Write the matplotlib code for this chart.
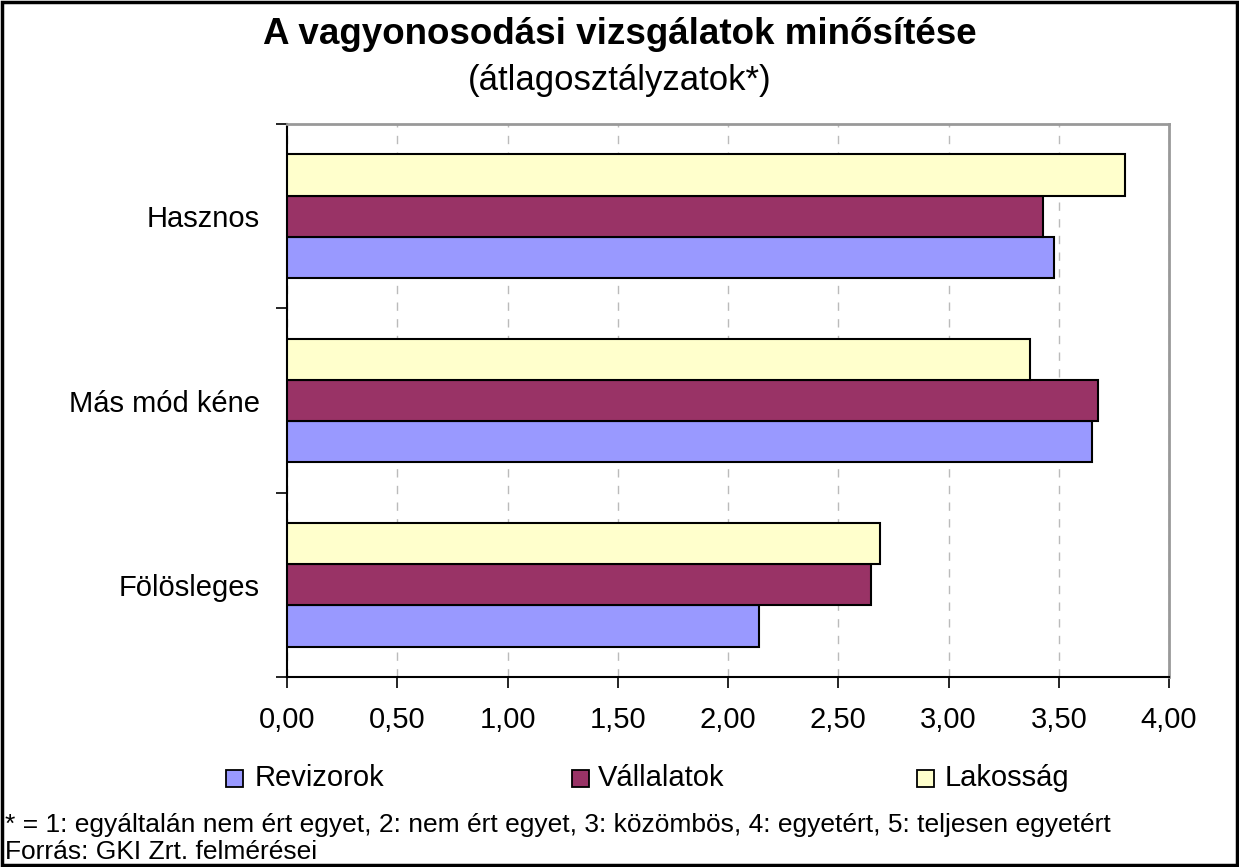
import matplotlib
matplotlib.use("Agg")
import matplotlib.pyplot as plt
import numpy as np
from matplotlib.patches import Rectangle

categories = ["Fölösleges", "Más mód kéne", "Hasznos"]
series_names = ["Revizorok", "Vállalatok", "Lakosság"]
revizorok = [2.14, 3.65, 3.48]
vallalatok = [2.65, 3.68, 3.43]
lakossag = [2.69, 3.37, 3.80]
xticks = [0, 0.5, 1, 1.5, 2, 2.5, 3, 3.5, 4]
xticklabels = ["0,00", "0,50", "1,00", "1,50", "2,00", "2,50", "3,00", "3,50", "4,00"]
colors = ["#9999FF", "#993366", "#FFFFCC"]

plt.rcParams['font.family'] = ['Liberation Sans', 'DejaVu Sans']

W, H = 1239, 867
fig = plt.figure(figsize=(W / 100, H / 100), dpi=100)
ax = fig.add_axes([287 / W, 1 - 677 / H, (1169 - 287) / W, (677 - 124) / H])

y = np.arange(len(categories))
h = 0.224
for i, (vals, c, name) in enumerate(zip([revizorok, vallalatok, lakossag], colors, series_names)):
    ax.barh(y + (i - 1) * h, vals, height=h, color=c, edgecolor="black", linewidth=1.5, label=name, zorder=3)

ax.set_xlim(0, 4)
ax.set_ylim(-0.5, 2.5)
ax.set_xticks(xticks)
ax.set_xticklabels(xticklabels, fontsize=21)
ax.set_yticks(y)
ax.set_yticklabels(categories, fontsize=21)
ax.set_yticks([-0.5, 0.5, 1.5, 2.5], minor=True)
ax.tick_params(axis='y', which='major', length=0, pad=19.5)
ax.tick_params(axis='y', which='minor', length=8, width=1.2, direction='out')
ax.tick_params(axis='x', which='major', length=8, width=1.2, direction='out', pad=13)
ax.grid(axis='x', color="#BBBBBB", linestyle=(0, (6, 6)), linewidth=1, zorder=0)
for s in ['left', 'bottom']:
    ax.spines[s].set_color('black')
    ax.spines[s].set_linewidth(1.5)
for s in ['top', 'right']:
    ax.spines[s].set_color('#999999')
    ax.spines[s].set_linewidth(2)

fig.text(0.5, 1 - 44 / H, "A vagyonosodási vizsgálatok minősítése", ha='center', va='baseline',
         fontsize=26.5, fontweight='bold')
fig.text(0.5, 1 - 90 / H, "(átlagosztályzatok*)", ha='center', va='baseline', fontsize=25)

leg_sq = [226, 572, 917]
leg_tx = [255, 598, 945]
for xs, xt, c, name in zip(leg_sq, leg_tx, colors, series_names):
    fig.patches.append(Rectangle((xs / W, 1 - 786.5 / H), 17 / W, 17 / H, transform=fig.transFigure,
                                 facecolor=c, edgecolor='black', linewidth=1.3))
    fig.text(xt / W, 1 - 778 / H, name, ha='left', va='center', fontsize=21)

fig.text(5 / W, 1 - 825 / H,
         "* = 1: egyáltalán nem ért egyet, 2: nem ért egyet, 3: közömbös, 4: egyetért, 5: teljesen egyetért",
         ha='left', va='center', fontsize=19)
fig.text(5 / W, 1 - 852 / H, "Forrás: GKI Zrt. felmérései", ha='left', va='center', fontsize=19)

fig.patches.append(Rectangle((0.0015, 0.002), 0.997, 0.996, transform=fig.transFigure,
                             facecolor='none', edgecolor='black', linewidth=2.5))

fig.savefig("out.png", dpi=100)
